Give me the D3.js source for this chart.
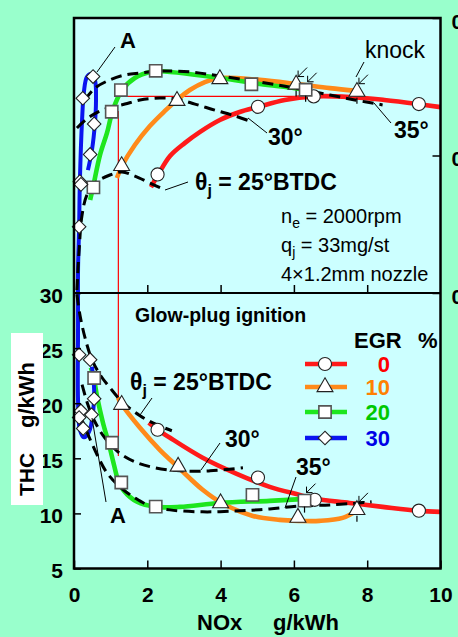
<!DOCTYPE html>
<html><head><meta charset="utf-8">
<script src="https://cdn.jsdelivr.net/npm/d3@7"></script>
<style>
body{margin:0;background:#99ffcc;}
svg{display:block;font-family:"Liberation Sans",Arial,sans-serif;}
</style></head>
<body><svg id="c" width="458" height="637"></svg>
<script>
// ---------- DATA ----------
const xTicks = [0, 2, 4, 6, 8, 10];
const thcTicks = [5, 10, 15, 20, 25, 30];
const effTicks = [0.30, 0.35, 0.40];
const effTickLabels = ["0.30", "0.35", "0.40"];
const egrLevels = ["0", "10", "20", "30"];

// upper panel markers [NOx g/kWh, efficiency]
const effEgr0  = [[2.28,0.3431],[5.02,0.3677],[6.54,0.3715],[9.41,0.3687]];
const effEgr10 = [[1.30,0.3462],[2.81,0.3699],[3.98,0.3778],[6.06,0.3758],[7.72,0.3732]];
const effEgr20 = [[0.53,0.3384],[1.03,0.3659],[1.28,0.3738],[2.23,0.3808],[4.84,0.3759],[6.32,0.3739]];
const effEgr30 = [[0.52,0.3787],[0.24,0.3708],[0.55,0.3615],[0.44,0.3504],[0.16,0.3405],[0.19,0.3395],[0.14,0.3241]];
// upper panel fitted curves
const effCurve0  = [[2.10,0.3385],[2.29,0.3429],[2.62,0.3498],[3.02,0.3545],[3.43,0.3585],[3.98,0.3629],[4.52,0.3658],[5.01,0.3676],[5.75,0.3702],[6.54,0.3715],[7.52,0.3713],[8.47,0.3702],[9.40,0.3687],[10.0,0.3676]];
const effCurve10 = [[1.17,0.3418],[1.31,0.3462],[1.66,0.3538],[2.07,0.3607],[2.48,0.3662],[2.81,0.3702],[3.16,0.3738],[3.57,0.3767],[3.98,0.3782],[5.07,0.3775],[6.08,0.3760],[6.98,0.3745],[7.71,0.3735]];
const effCurve20 = [[0.44,0.3338],[0.52,0.3385],[0.71,0.3502],[0.90,0.3582],[1.06,0.3665],[1.31,0.3738],[1.66,0.3782],[2.07,0.3804],[2.26,0.3807],[3.98,0.3782],[5.07,0.3760],[6.02,0.3745],[6.32,0.3738]];
const effCurve30 = [[0.38,0.3447],[0.49,0.3520],[0.57,0.3615],[0.60,0.3702],[0.57,0.3775],[0.46,0.3796],[0.35,0.3785],[0.27,0.3731],[0.22,0.3629],[0.16,0.3404],[0.14,0.3244],[0.11,0.3084],[0.11,0.2975]];
// upper panel constant injection-timing lines
const effTiming25 = [[0.08,0.3011],[0.14,0.3156],[0.22,0.3284],[0.35,0.3356],[0.57,0.3400],[0.98,0.3429],[1.31,0.3440],[1.66,0.3425],[2.07,0.3400],[2.48,0.3375]];
const effTiming30 = [[0.08,0.3600],[0.38,0.3636],[0.71,0.3662],[1.04,0.3676],[1.39,0.3687],[1.80,0.3702],[2.34,0.3709],[2.81,0.3705],[3.30,0.3687],[3.84,0.3665],[4.39,0.3644],[4.80,0.3625]];
const effTiming35 = [[0.30,0.3702],[0.57,0.3745],[0.98,0.3775],[1.39,0.3793],[1.80,0.3800],[2.34,0.3807],[3.16,0.3804],[3.98,0.3789],[5.07,0.3767],[6.16,0.3742],[6.98,0.3720],[7.66,0.3702],[8.42,0.3684]];

// lower panel markers [NOx, THC g/kWh]
const thcEgr0  = [[2.28,17.59],[5.02,13.25],[6.57,11.23],[9.41,10.25]];
const thcEgr10 = [[1.30,19.86],[2.84,14.25],[4.00,10.93],[6.11,9.62],[7.72,10.32]];
const thcEgr20 = [[0.55,22.29],[1.04,16.41],[1.29,12.80],[2.23,10.62],[4.87,11.68],[6.29,11.16]];
const thcEgr30 = [[0.14,24.40],[0.44,23.95],[0.55,20.40],[0.19,19.30],[0.14,18.70],[0.25,17.70],[0.48,18.95]];
// lower panel fitted curves
const thcCurve0  = [[2.04,18.23],[2.29,17.59],[2.62,16.86],[3.51,15.05],[4.44,13.59],[5.34,12.41],[6.16,11.68],[6.57,11.32],[7.52,10.95],[8.42,10.59],[9.40,10.23],[10.0,10.14]];
const thcCurve10 = [[1.20,20.50],[1.31,19.86],[1.80,17.77],[2.34,15.77],[2.83,14.23],[3.51,12.14],[4.03,10.95],[4.88,9.77],[5.61,9.41],[6.16,9.32],[6.70,9.32],[7.33,9.59],[7.71,10.23]];
const thcCurve20 = [[0.46,23.23],[0.54,22.32],[0.63,20.59],[0.79,18.23],[0.95,16.32],[1.09,14.41],[1.20,13.05],[1.36,12.05],[1.72,11.05],[2.23,10.59],[2.89,10.59],[3.98,10.95],[5.34,11.14],[6.32,11.32]];
const thcCurve30 = [[0.11,30.80],[0.11,26.70],[0.11,20.30],[0.16,17.60],[0.27,16.90],[0.41,17.40],[0.52,19.20],[0.55,21.20],[0.49,23.30]];
// lower panel constant injection-timing lines
const thcTiming25 = [[0.08,29.86],[0.16,28.05],[0.30,25.95],[0.49,23.95],[0.71,22.59],[0.98,21.41],[1.31,20.14],[1.80,18.86],[2.26,18.05],[2.67,17.50]];
const thcTiming30 = [[0.22,21.68],[0.38,19.86],[0.57,18.32],[0.84,16.86],[1.20,15.59],[1.66,14.68],[2.21,14.14],[2.89,13.86],[3.71,13.86],[4.61,14.14]];
const thcTiming35 = [[0.16,18.95],[0.35,17.41],[0.63,15.32],[0.90,13.68],[1.25,12.41],[1.66,11.41],[2.07,10.68],[2.62,10.32],[3.51,10.14],[4.52,10.23],[5.34,10.41],[6.16,10.68],[6.98,10.77],[7.79,10.95],[8.12,11.05]];

// knock points
const knockEff = [[6.06,0.3758],[6.32,0.3739],[7.72,0.3732]];
const knockThc = [[6.29,11.16],[7.72,10.32]];
// thin red reference lines
const refNOx = 1.21, refEffTop = 0.3662, refThcBottom = 15.2;
const refEff = 0.3715, refEffX0 = 1.28, refEffX1 = 6.54;

// ---------- LAYOUT ----------
const L = 74, R = 440.5, T = 18, M = 293, B = 568.5;
const x = d3.scaleLinear().domain([0, 10]).range([L, R]);
const yU = d3.scaleLinear().domain([0.30, 0.40]).range([M, T]);
const yL = d3.scaleLinear().domain([5, 30]).range([B, M]);

const colors = ["#ff1a1a", "#ff8a1a", "#1ee61e", "#0a14f0"];
const textColors = ["#ff0000", "#ff8000", "#00c800", "#0000e6"];
const shapes = [d3.symbolCircle, d3.symbolTriangle, d3.symbolSquare, d3.symbolSquare];
const shapeSizes = [135, 110, 150, 92];
const shapeRot = [0, 0, 0, 45];

const svg = d3.select("#c");
const defs = svg.append("defs");
defs.append("clipPath").attr("id", "cu").append("rect").attr("x", L).attr("y", T).attr("width", R - L).attr("height", M - T);
defs.append("clipPath").attr("id", "cl").append("rect").attr("x", L).attr("y", M).attr("width", R - L).attr("height", B - M);

svg.append("rect").attr("x", L).attr("y", T).attr("width", R - L).attr("height", B - T).attr("fill", "#ccffff");

const gU = svg.append("g").attr("clip-path", "url(#cu)");
const gL = svg.append("g").attr("clip-path", "url(#cl)");

const lineU = d3.line().x(d => x(d[0])).y(d => yU(d[1])).curve(d3.curveCatmullRom.alpha(0.5));
const lineL = d3.line().x(d => x(d[0])).y(d => yL(d[1])).curve(d3.curveCatmullRom.alpha(0.5));

// reference red thin lines
gU.append("line").attr("x1", x(refNOx)).attr("x2", x(refNOx)).attr("y1", yU(refEffTop)).attr("y2", M).attr("stroke", "#ff0000").attr("stroke-width", 1.2);
gL.append("line").attr("x1", x(refNOx)).attr("x2", x(refNOx)).attr("y1", M).attr("y2", yL(refThcBottom)).attr("stroke", "#ff0000").attr("stroke-width", 1.2);
gU.append("line").attr("x1", x(refEffX0)).attr("x2", x(refEffX1)).attr("y1", yU(refEff)).attr("y2", yU(refEff)).attr("stroke", "#ff0000").attr("stroke-width", 1.2);

// colored curves
const effCurves = [effCurve0, effCurve10, effCurve20, effCurve30];
const thcCurves = [thcCurve0, thcCurve10, thcCurve20, thcCurve30];
effCurves.forEach((c, i) => gU.append("path").attr("d", lineU(c)).attr("fill", "none").attr("stroke", colors[i]).attr("stroke-width", i === 3 ? 4 : 4.6).attr("stroke-linecap", "butt"));
thcCurves.forEach((c, i) => gL.append("path").attr("d", lineL(c)).attr("fill", "none").attr("stroke", colors[i]).attr("stroke-width", i === 3 ? 4 : 4.6).attr("stroke-linecap", "butt"));

// dashed timing lines
[effTiming25, effTiming30, effTiming35].forEach(c => gU.append("path").attr("d", lineU(c)).attr("fill", "none").attr("stroke", "#000").attr("stroke-width", 3).attr("stroke-dasharray", "11,6"));
[thcTiming25, thcTiming30, thcTiming35].forEach(c => gL.append("path").attr("d", lineL(c)).attr("fill", "none").attr("stroke", "#000").attr("stroke-width", 3).attr("stroke-dasharray", "11,6"));

// markers
function markers(g, pts, ys, i) {
  g.selectAll(null).data(pts).enter().append("path")
    .attr("d", d3.symbol(shapes[i], shapeSizes[i]))
    .attr("transform", d => `translate(${x(d[0])},${ys(d[1])}) rotate(${shapeRot[i]})`)
    .attr("fill", "#fff").attr("stroke", i === 2 ? "#555" : "#222").attr("stroke-width", i === 2 ? 1.6 : 1.1);
}
[effEgr0, effEgr10, effEgr20, effEgr30].forEach((p, i) => markers(svg, p, yU, i));
[thcEgr0, thcEgr10, thcEgr20, thcEgr30].forEach((p, i) => markers(svg, p, yL, i));

// knock arrows
function knock(pts, ys) {
  pts.forEach(d => {
    const px = x(d[0]), py = ys(d[1]);
    svg.append("path").attr("d", `M${px+11},${py-17}L${px+2},${py-8}M${px+2},${py-8}L${px+2},${py-14}M${px+2},${py-8}L${px+8},${py-8}`)
      .attr("fill", "none").attr("stroke", "#000").attr("stroke-width", 1);
    svg.append("line").attr("x1", px).attr("x2", px).attr("y1", py + 6).attr("y2", py + 12).attr("stroke", "#000").attr("stroke-width", 1.2);
  });
}
knock(knockEff, yU);
knock(knockThc, yL);

// leader lines
const leaders = [
  [115,47,97,72], [106,502,92,418], [165,190,188,182], [140,415,152,398],
  [248,118,267,133], [374,103,391,123], [201,470,220,443], [285,508,296,477], [364,62,356,77]
];
leaders.forEach(l => svg.append("line").attr("x1", l[0]).attr("y1", l[1]).attr("x2", l[2]).attr("y2", l[3]).attr("stroke", "#000").attr("stroke-width", 1));

// frame
svg.append("rect").attr("x", L).attr("y", T).attr("width", R - L).attr("height", B - T).attr("fill", "none").attr("stroke", "#000").attr("stroke-width", 2.5);
svg.append("line").attr("x1", L).attr("x2", R).attr("y1", M).attr("y2", M).attr("stroke", "#000").attr("stroke-width", 2.2);

// axes
const axX = svg.append("g").attr("transform", `translate(0,${B})`).call(d3.axisBottom(x).tickValues(xTicks).tickSize(-8).tickFormat(d3.format("d")));
axX.select(".domain").remove();
axX.selectAll("line").attr("stroke-width", 1.5);
axX.selectAll("text").attr("y", 33.5).attr("dy", 0).attr("font-size", 21).attr("font-weight", "bold").attr("fill", "#000").attr("font-family", "Liberation Sans, Arial, sans-serif");

const axXU = svg.append("g").attr("transform", `translate(0,${M})`).call(d3.axisBottom(x).tickValues(xTicks.slice(1, -1)).tickSize(-8).tickFormat(""));
axXU.select(".domain").remove();
axXU.selectAll("line").attr("stroke-width", 1.5);

const axY = svg.append("g").attr("transform", `translate(${L},0)`).call(d3.axisLeft(yL).tickValues(thcTicks).tickSize(-7).tickPadding(11));
axY.select(".domain").remove();
axY.selectAll("line").attr("stroke-width", 1.5);
axY.selectAll("text").attr("dy", "0.43em").attr("font-size", 21).attr("font-weight", "bold").attr("fill", "#000").attr("font-family", "Liberation Sans, Arial, sans-serif");

const axYR = svg.append("g").attr("transform", `translate(${R},0)`).call(d3.axisRight(yU).tickValues(effTicks).tickSize(-8).tickPadding(11).tickFormat((d, i) => effTickLabels[i]));
axYR.select(".domain").remove();
axYR.selectAll("line").attr("stroke-width", 1.5);
axYR.selectAll("text").attr("dy", "0.48em").attr("font-size", 21).attr("font-weight", "bold").attr("fill", "#000").attr("font-family", "Liberation Sans, Arial, sans-serif");

// axis titles
svg.append("rect").attr("x", 11).attr("y", 333).attr("width", 32).attr("height", 172).attr("fill", "#fff");
const yt = svg.append("g").attr("transform", "translate(34,0)");
yt.append("text").attr("transform", "translate(0,496) rotate(-90)").attr("font-size", 21).attr("font-weight", "bold").text("THC");
yt.append("text").attr("transform", "translate(0,428) rotate(-90)").attr("font-size", 22).attr("font-weight", "bold").text("g/kWh");
svg.append("text").attr("x", 197).attr("y", 630).attr("font-size", 22).attr("font-weight", "bold").text("NOx");
svg.append("text").attr("x", 273).attr("y", 630).attr("font-size", 22).attr("font-weight", "bold").text("g/kWh");

// annotations
function txt(x0, y0, s, size, bold) {
  return svg.append("text").attr("x", x0).attr("y", y0).attr("font-size", size).attr("font-weight", bold ? "bold" : "normal").text(s);
}
txt(120, 48, "A", 22, true);
txt(110, 523, "A", 22, true);
txt(268, 145, "30°", 23, true);
txt(394, 138, "35°", 23, true);
txt(225, 447, "30°", 23, true);
txt(296, 475, "35°", 23, true);
txt(365, 58, "knock", 23, false);

function theta(x0, y0) {
  const t = svg.append("text").attr("x", x0).attr("y", y0).attr("font-size", 23).attr("font-weight", "bold");
  t.append("tspan").text("θ");
  t.append("tspan").attr("font-size", 16).attr("dy", 6).text("j");
  t.append("tspan").attr("dy", -6).text(" = 25°BTDC");
}
theta(195, 190);
theta(130, 390);

function sub(x0, y0, a, b, c) {
  const t = svg.append("text").attr("x", x0).attr("y", y0).attr("font-size", 20);
  t.append("tspan").text(a);
  t.append("tspan").attr("font-size", 14).attr("dy", 5).text(b);
  t.append("tspan").attr("dy", -5).text(c);
}
sub(281, 223, "n", "e", " = 2000rpm");
sub(281, 252, "q", "j", " = 33mg/st");
txt(281, 281, "4×1.2mm nozzle", 20, false);
txt(135, 322, "Glow-plug ignition", 19.5, true);

// legend
txt(354, 348, "EGR", 22, true);
txt(418, 348, "%", 22, true);
const legY = [364, 387, 412, 438];
egrLevels.forEach((lab, i) => {
  svg.append("line").attr("x1", 305).attr("x2", 347).attr("y1", legY[i]).attr("y2", legY[i]).attr("stroke", colors[i]).attr("stroke-width", 4.6);
  svg.append("path").attr("d", d3.symbol(shapes[i], shapeSizes[i])).attr("transform", `translate(325,${legY[i]}) rotate(${shapeRot[i]})`)
    .attr("fill", "#fff").attr("stroke", i === 2 ? "#555" : "#222").attr("stroke-width", i === 2 ? 1.6 : 1.1);
  svg.append("text").attr("x", 390).attr("y", legY[i] + 8).attr("text-anchor", "end").attr("font-size", 22).attr("font-weight", "bold").attr("fill", textColors[i]).text(lab);
});
</script></body></html>
